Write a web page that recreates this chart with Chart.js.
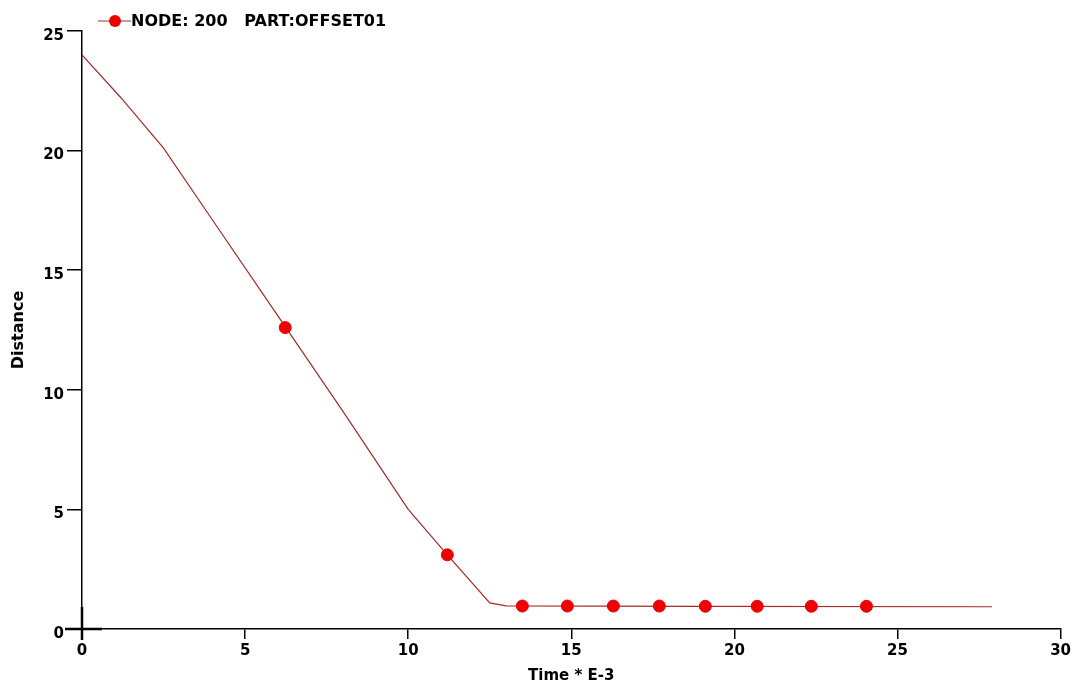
<!DOCTYPE html>
<html lang="en">
<head>
    <meta charset="UTF-8">
    <title>Distance vs Time</title>
    <script src="https://cdn.jsdelivr.net/npm/chart.js"></script>
    <style>
        html, body { margin: 0; padding: 0; background: #fff; }
        #wrap { width: 1074px; height: 691px; }
    </style>
</head>
<body>
<div id="wrap"><canvas id="chart" width="1074" height="691"></canvas></div>
<script>
    // curve of node 200 (time in E-3 units)
    const lineTimes = [0, 1.2, 2.5, 4, 6, 8, 10, 11.2, 12.5, 13.0, 19, 27.9];
    const lineDist  = [24, 22.2, 20.1, 17.1, 13.1, 9.1, 5.0, 3.1, 1.09, 0.97, 0.95, 0.93];

    // symbols placed along the curve
    const markerTimes = [6.23, 11.2, 13.5, 14.88, 16.29, 17.7, 19.11, 20.7, 22.36, 24.05];
    const markerDist  = [12.6, 3.1, 0.96, 0.96, 0.96, 0.96, 0.95, 0.95, 0.95, 0.95];

    const xTicks = [0, 5, 10, 15, 20, 25, 30];
    const yTicks = [0, 5, 10, 15, 20, 25];

    const legendText = 'NODE: 200   PART:OFFSET01';
    const lineColor = '#a52a2a';
    const markColor = '#ee0000';
    const font = "'DejaVu Sans', 'Liberation Sans', Arial, sans-serif";

    const decor = {
        id: 'decor',
        afterDraw(chart) {
            const ctx = chart.ctx;
            const x = chart.scales.x, y = chart.scales.y;
            const ox = x.getPixelForValue(0), oy = y.getPixelForValue(0);
            ctx.save();
            // thick cross at origin
            ctx.strokeStyle = '#000';
            ctx.lineWidth = 2.5;
            ctx.beginPath();
            ctx.moveTo(ox - 17, oy); ctx.lineTo(ox + 20, oy);
            ctx.moveTo(ox, oy - 22); ctx.lineTo(ox, oy + 11);
            ctx.stroke();
            // legend
            const lx = chart.chartArea.left + 33, ly = 21;
            ctx.strokeStyle = lineColor;
            ctx.lineWidth = 1.2;
            ctx.beginPath();
            ctx.moveTo(lx - 17, ly); ctx.lineTo(lx + 16, ly);
            ctx.stroke();
            ctx.fillStyle = markColor;
            ctx.beginPath();
            ctx.arc(lx, ly, 6, 0, Math.PI * 2);
            ctx.fill();
            ctx.fillStyle = '#000';
            ctx.font = 'bold 16px ' + font;
            ctx.textBaseline = 'alphabetic';
            ctx.fillText(legendText, lx + 16, ly + 5);
            ctx.restore();
        }
    };

    new Chart(document.getElementById('chart'), {
        type: 'scatter',
        data: {
            datasets: [
                {
                    label: 'curve',
                    data: lineTimes.map((t, i) => ({ x: t, y: lineDist[i] })),
                    showLine: true,
                    borderColor: lineColor,
                    borderWidth: 1.2,
                    pointRadius: 0,
                    order: 2
                },
                {
                    label: 'symbols',
                    data: markerTimes.map((t, i) => ({ x: t, y: markerDist[i] })),
                    showLine: false,
                    backgroundColor: markColor,
                    borderColor: markColor,
                    pointRadius: 6,
                    order: 1
                }
            ]
        },
        options: {
            responsive: false,
            animation: false,
            layout: { padding: { top: 31, right: 13, left: 0, bottom: 0 } },
            plugins: {
                legend: { display: false },
                tooltip: { enabled: false }
            },
            scales: {
                x: {
                    type: 'linear',
                    min: 0, max: 30,
                    afterBuildTicks: s => { s.ticks = xTicks.map(v => ({ value: v })); },
                    afterFit: s => { s.height = 62; },
                    grid: { display: true, drawOnChartArea: false, color: '#000', tickLength: 10, lineWidth: 1.5 },
                    border: { display: true, color: '#000', width: 1.5 },
                    ticks: { color: '#000', padding: 3, maxRotation: 0, font: { family: font, size: 15, weight: 'bold' } },
                    title: { display: true, text: 'Time * E-3', color: '#000', padding: { bottom: 6 }, font: { family: font, size: 15, weight: 'bold' } }
                },
                y: {
                    type: 'linear',
                    min: 0, max: 25,
                    afterBuildTicks: s => { s.ticks = yTicks.map(v => ({ value: v })); },
                    afterFit: s => { s.width = 82; },
                    grid: { display: true, drawOnChartArea: false, color: '#000', tickLength: 15, lineWidth: 1.5 },
                    border: { display: true, color: '#000', width: 1.5 },
                    ticks: { color: '#000', padding: 3, labelOffset: 5, font: { family: font, size: 15, weight: 'bold' } },
                    title: { display: true, text: 'Distance', color: '#000', padding: { top: 9 }, font: { family: font, size: 16, weight: 'bold' } }
                }
            }
        },
        plugins: [decor]
    });
</script>
</body>
</html>
